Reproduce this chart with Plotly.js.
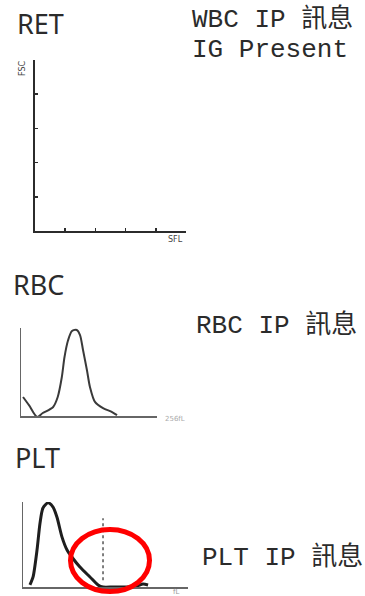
<!DOCTYPE html>
<html>
<head>
<meta charset="utf-8">
<script src="https://cdn.plot.ly/plotly-3.0.1.min.js"></script>
<style>html,body{margin:0;padding:0;background:#fff;}#chart{width:365px;height:596px;}</style>
</head>
<body>
<div id="chart"></div>
<script>
// ---- data ----
const panelTitles = ["RET", "RBC", "PLT"];
const sideNotes = ["WBC IP 訊息", "IG Present", "RBC IP 訊息", "PLT IP 訊息"];
const retAxisLabels = ["FSC", "SFL"];
const rbcAxisLabel = "256fL";
const pltAxisLabel = "fL";

// RBC histogram (x: 0-100 channel, y: 0-100 relative count)
const rbcX = [1.5, 6, 11.8, 16, 23.5, 27, 30, 32, 34.6, 37.5, 41, 43.4, 45.6, 48.5, 50.7, 54.4, 60.3, 67, 70.6];
const rbcY = [21.6, 12, -1, 3.4, 10, 21.6, 44, 67, 86, 96.6, 97.7, 92, 75, 52, 33, 16, 9, 4.5, 1];

// PLT histogram
const pltX = [4.2, 6.1, 8.5, 10.3, 12.1, 15.2, 18.2, 20.6, 23.6, 26.7, 29.7, 34.5, 40.6, 45.5, 48.5, 54.5, 63, 69, 72.7, 75.8];
const pltY = [2.4, 11.8, 43.5, 75, 93, 99, 94, 82, 59, 43.5, 35, 23.5, 11.8, 2.4, 0, 0, 0, 1.2, 3.5, 2.4];
const pltDiscriminatorX = 48.5;
const pltDiscriminatorY = [8, 81];

// ---- layout helpers (pixel -> paper) ----
const W = 365, H = 596;
const px = v => v / W;
const py = v => 1 - v / H;

const ink = "#2b2b2b";

const traces = [
  {x: [], y: [], xaxis: "x", yaxis: "y", type: "scatter", mode: "lines", showlegend: false, hoverinfo: "skip"},
  {x: rbcX, y: rbcY, xaxis: "x2", yaxis: "y2", type: "scatter", mode: "lines",
   line: {color: "#3a3a3a", width: 2, shape: "spline", smoothing: 0.8}, showlegend: false, hoverinfo: "skip"},
  {x: pltX, y: pltY, xaxis: "x3", yaxis: "y3", type: "scatter", mode: "lines",
   line: {color: "#1e1e1e", width: 3, shape: "spline", smoothing: 0.7}, showlegend: false, hoverinfo: "skip"},
  {x: [pltDiscriminatorX, pltDiscriminatorX], y: pltDiscriminatorY, xaxis: "x3", yaxis: "y3", type: "scatter", mode: "lines",
   line: {color: "#555", width: 1.5, dash: "dot"}, showlegend: false, hoverinfo: "skip"}
];

function axis(domain, anchor, opts) {
  return Object.assign({
    domain: domain, anchor: anchor, range: [0, 100], showline: true, linecolor: ink, linewidth: 2,
    showgrid: false, zeroline: false, showticklabels: false, ticks: "", fixedrange: true
  }, opts || {});
}

const layout = {
  width: W, height: H,
  margin: {l: 0, r: 0, t: 0, b: 0},
  paper_bgcolor: "#fff", plot_bgcolor: "rgba(0,0,0,0)",
  showlegend: false,
  xaxis: axis([px(35), px(186)], "y", {ticks: "inside", ticklen: 3, tickcolor: ink, tickwidth: 1.5, dtick: 20, tick0: 0}),
  yaxis: axis([py(231), py(60)], "x", {ticks: "inside", ticklen: 3, tickcolor: ink, tickwidth: 1.5, dtick: 20, tick0: 0}),
  xaxis2: axis([px(21), px(157)], "y2", {linecolor: "#666", linewidth: 1.5}),
  yaxis2: axis([py(416), py(328)], "x2", {linecolor: "#666", linewidth: 1.5}),
  xaxis3: axis([px(23), px(188)], "y3", {linecolor: "#666", linewidth: 1.5}),
  yaxis3: axis([py(587), py(502)], "x3", {linecolor: "#666", linewidth: 1.5}),
  annotations: [],
  shapes: [
    {type: "circle", xref: "paper", yref: "paper", x0: px(70.5), x1: px(149.5), y0: py(591.5), y1: py(529.5),
     line: {color: "#ff0000", width: 5}}
  ]
};

const titleFont = {family: "Noto Sans, sans-serif", size: 27, color: ink};
const titlePos = [[15, 23], [11, 284], [13, 457]];
panelTitles.forEach((t, i) => {
  layout.annotations.push({text: t, xref: "paper", yref: "paper", x: px(titlePos[i][0]), y: py(titlePos[i][1]),
    xanchor: "left", yanchor: "middle", showarrow: false, font: titleFont});
});

const noteFont = {family: "Liberation Mono, Noto Sans CJK TC, monospace", size: 26, color: ink};
const notePos = [[190, 20], [190, 50], [194, 325], [200, 557]];
sideNotes.forEach((t, i) => {
  layout.annotations.push({text: t, xref: "paper", yref: "paper", x: px(notePos[i][0]), y: py(notePos[i][1]),
    xanchor: "left", yanchor: "middle", showarrow: false, font: noteFont});
});

const smallFont = {family: "DejaVu Sans, sans-serif", size: 8, color: "#444"};
layout.annotations.push({text: retAxisLabels[0], xref: "paper", yref: "paper", x: px(23), y: py(68),
  xanchor: "center", yanchor: "middle", showarrow: false, textangle: -90, font: smallFont});
layout.annotations.push({text: retAxisLabels[1], xref: "paper", yref: "paper", x: px(175), y: py(239),
  xanchor: "center", yanchor: "middle", showarrow: false, font: smallFont});
layout.annotations.push({text: rbcAxisLabel, xref: "paper", yref: "paper", x: px(175), y: py(419),
  xanchor: "center", yanchor: "middle", showarrow: false, font: {family: "DejaVu Sans, sans-serif", size: 7, color: "#aaa"}});
layout.annotations.push({text: pltAxisLabel, xref: "paper", yref: "paper", x: px(176), y: py(592),
  xanchor: "center", yanchor: "middle", showarrow: false, font: {family: "DejaVu Sans, sans-serif", size: 7, color: "#999"}});

Plotly.newPlot("chart", traces, layout, {staticPlot: true, displayModeBar: false});
</script>
</body>
</html>
